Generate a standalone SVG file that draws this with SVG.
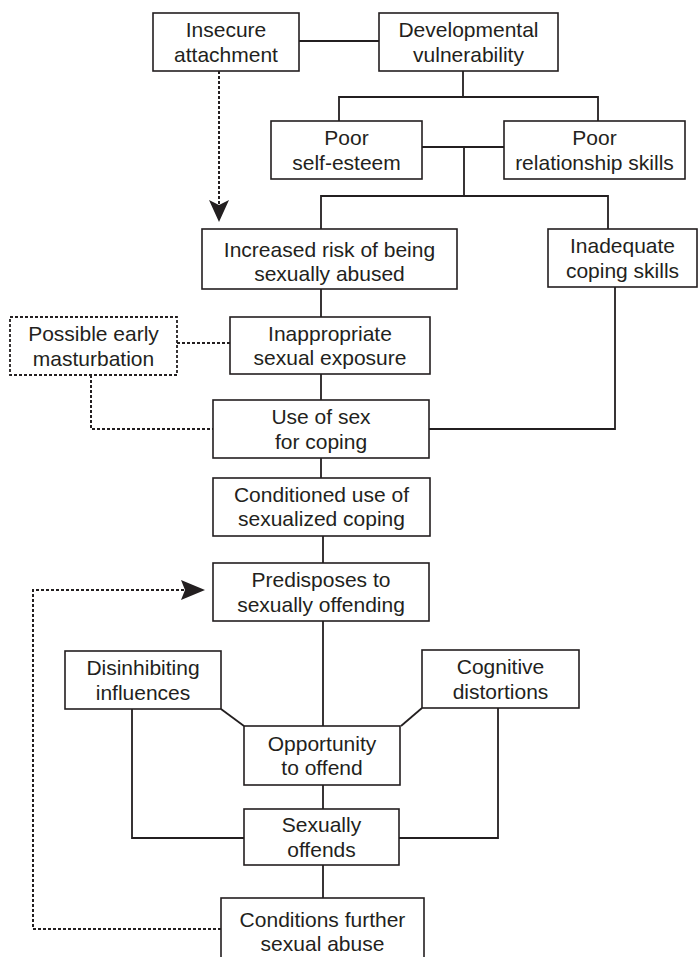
<svg xmlns="http://www.w3.org/2000/svg" width="698" height="957" viewBox="0 0 698 957">
  <style>
    .box { fill: #ffffff; stroke: #231f20; stroke-width: 1.6; }
    .dbox { fill: #ffffff; stroke: #231f20; stroke-width: 1.8; stroke-dasharray: 3 2; }
    .ln { fill: none; stroke: #231f20; stroke-width: 1.8; }
    .dot { fill: none; stroke: #231f20; stroke-width: 2; stroke-dasharray: 3 2; }
    .head { fill: #231f20; stroke: none; }
    text { font-family: "Liberation Sans", Arial, sans-serif; font-size: 21px; fill: #231f20; text-anchor: middle; }
  </style>

  <!-- connectors -->
  <g id="connectors">
    <path class="ln" d="M299 41 H379"/>
    <path class="ln" d="M463 71 V97"/>
    <path class="ln" d="M339 121 V97 H598 V121"/>
    <path class="ln" d="M422 147 H504"/>
    <path class="ln" d="M464 147 V196"/>
    <path class="ln" d="M321 229 V196 H608 V229"/>
    <path class="ln" d="M615 287 V429 H429"/>
    <path class="ln" d="M321 289 V317"/>
    <path class="ln" d="M321 374 V400"/>
    <path class="ln" d="M321 458 V478"/>
    <path class="ln" d="M323 536 V563"/>
    <path class="ln" d="M323 621 V726"/>
    <path class="ln" d="M221 709 L244 726"/>
    <path class="ln" d="M422 708 L401 726"/>
    <path class="ln" d="M132 709 V838 H244"/>
    <path class="ln" d="M498 708 V838 H399"/>
    <path class="ln" d="M323 785 V809"/>
    <path class="ln" d="M323 865 V898"/>

    <!-- dotted links -->
    <path class="dot" d="M219 71 V204"/>
    <polygon class="head" points="219,222 209,200 219,205 229,200"/>
    <path class="dot" d="M177 343 H230"/>
    <path class="dot" d="M91 375 V429 H213"/>
    <path class="dot" d="M221 929 H33 V590 H184"/>
    <polygon class="head" points="205,590 181,580 185,590 181,600"/>
  </g>

  <g id="insecure-attachment">
    <rect class="box" x="153" y="13" width="146" height="58"/>
    <text x="226" y="37">Insecure</text>
    <text x="226" y="62">attachment</text>
  </g>

  <g id="developmental-vulnerability">
    <rect class="box" x="379" y="13" width="179" height="58"/>
    <text x="468.5" y="37">Developmental</text>
    <text x="468.5" y="62">vulnerability</text>
  </g>

  <g id="poor-self-esteem">
    <rect class="box" x="271" y="121" width="151" height="58"/>
    <text x="346.5" y="145">Poor</text>
    <text x="346.5" y="170">self-esteem</text>
  </g>

  <g id="poor-relationship-skills">
    <rect class="box" x="504" y="121" width="181" height="58"/>
    <text x="594.5" y="145">Poor</text>
    <text x="594.5" y="170">relationship skills</text>
  </g>

  <g id="increased-risk">
    <rect class="box" x="202" y="229" width="255" height="60"/>
    <text x="329.5" y="257">Increased risk of being</text>
    <text x="329.5" y="281">sexually abused</text>
  </g>

  <g id="inadequate-coping">
    <rect class="box" x="548" y="229" width="149" height="58"/>
    <text x="622.5" y="253">Inadequate</text>
    <text x="622.5" y="278">coping skills</text>
  </g>

  <g id="possible-early-masturbation">
    <rect class="dbox" x="10" y="317" width="167" height="58"/>
    <text x="93.5" y="341">Possible early</text>
    <text x="93.5" y="366">masturbation</text>
  </g>

  <g id="inappropriate-exposure">
    <rect class="box" x="230" y="317" width="200" height="57"/>
    <text x="330" y="341">Inappropriate</text>
    <text x="330" y="365">sexual exposure</text>
  </g>

  <g id="use-of-sex">
    <rect class="box" x="213" y="400" width="216" height="58"/>
    <text x="321" y="424">Use of sex</text>
    <text x="321" y="449">for coping</text>
  </g>

  <g id="conditioned-use">
    <rect class="box" x="213" y="478" width="217" height="58"/>
    <text x="321.5" y="502">Conditioned use of</text>
    <text x="321.5" y="526">sexualized coping</text>
  </g>

  <g id="predisposes">
    <rect class="box" x="213" y="563" width="216" height="58"/>
    <text x="321" y="587">Predisposes to</text>
    <text x="321" y="612">sexually offending</text>
  </g>

  <g id="disinhibiting-influences">
    <rect class="box" x="65" y="651" width="156" height="58"/>
    <text x="143" y="675">Disinhibiting</text>
    <text x="143" y="700">influences</text>
  </g>

  <g id="cognitive-distortions">
    <rect class="box" x="422" y="650" width="157" height="58"/>
    <text x="500.5" y="674">Cognitive</text>
    <text x="500.5" y="699">distortions</text>
  </g>

  <g id="opportunity">
    <rect class="box" x="244" y="726" width="156" height="59"/>
    <text x="322" y="751">Opportunity</text>
    <text x="322" y="775">to offend</text>
  </g>

  <g id="sexually-offends">
    <rect class="box" x="244" y="809" width="155" height="56"/>
    <text x="321.5" y="832">Sexually</text>
    <text x="321.5" y="857">offends</text>
  </g>

  <g id="conditions-further">
    <rect class="box" x="221" y="898" width="203" height="62"/>
    <text x="322.5" y="927">Conditions further</text>
    <text x="322.5" y="951">sexual abuse</text>
  </g>
</svg>
